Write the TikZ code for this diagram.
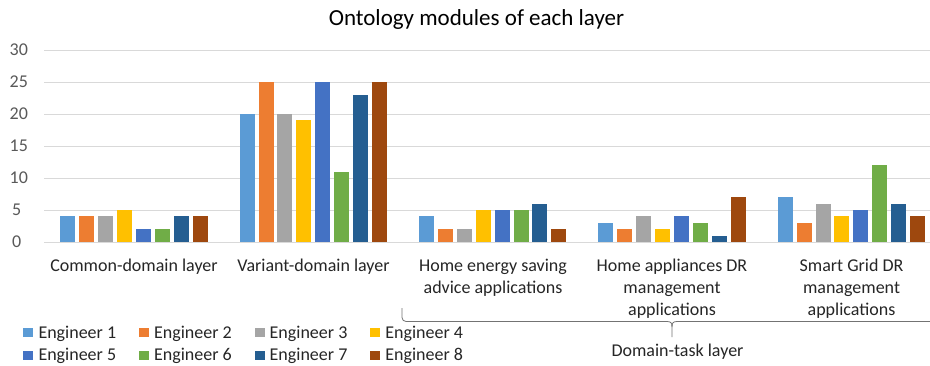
\documentclass[tikz,border=0pt]{standalone}
\usepackage{fontspec}
\setmainfont{Carlito}
\definecolor{e1}{HTML}{5B9BD5}
\definecolor{e2}{HTML}{ED7D31}
\definecolor{e3}{HTML}{A5A5A5}
\definecolor{e4}{HTML}{FFC000}
\definecolor{e5}{HTML}{4472C4}
\definecolor{e6}{HTML}{70AD47}
\definecolor{e7}{HTML}{255E91}
\definecolor{e8}{HTML}{9E480E}
\definecolor{gridc}{HTML}{D9D9D9}
\definecolor{txt}{HTML}{262626}
\definecolor{tickc}{HTML}{595959}
\begin{document}
\begin{tikzpicture}[x=1pt,y=-1pt,
  gridline/.style={draw=gridc,line width=1pt},
  ticklab/.style={inner sep=0pt,text=tickc,font=\fontsize{18}{22}\selectfont},
  catlab/.style={inner sep=0pt,anchor=base,text=txt,font=\fontsize{18}{22}\selectfont},
  leglab/.style={inner sep=0pt,anchor=base west,text=txt,font=\fontsize{18}{22}\selectfont},
  brace/.style={draw=black!55,line width=0.8pt}]
\useasboundingbox (0,0) rectangle (930,365);
\fill[white] (0,0) rectangle (930,365);
% title
\node[inner sep=0pt,anchor=base,text=black,font=\fontsize{23}{27}\selectfont] (title) at (476.5,25) {Ontology modules of each layer};
% grid
\foreach \k in {0,...,6} {\draw[gridline] (44,{242-32*\k}) -- (930,{242-32*\k});}
% ticks
\node[ticklab] (t0) at (16.7,242) {0};
\node[ticklab] (t5) at (16.7,210) {5};
\node[ticklab] (t10) at (18.8,178) {10};
\node[ticklab] (t15) at (18.8,146) {15};
\node[ticklab] (t20) at (18.8,114) {20};
\node[ticklab] (t25) at (18.8,82) {25};
\node[ticklab] (t30) at (18.8,50) {30};
% bars
\foreach \g/\vals in {0/{4,4,4,5,2,2,4,4},1/{20,25,20,19,25,11,23,25},2/{4,2,2,5,5,5,6,2},3/{3,2,4,2,4,3,1,7},4/{7,3,6,4,5,12,6,4}} {
  \foreach \v [count=\i] in \vals {
    \fill[e\i] ({60.3+\g*179.35+(\i-1)*18.9},242) rectangle ++(15,{-\v*6.4});
  }
}
% category labels
\node[catlab] (c1) at (134,271) {Common-domain layer};
\node[catlab] (c2) at (313.5,271) {Variant-domain layer};
\node[catlab] (c3a) at (493,271) {Home energy saving};
\node[catlab] (c3b) at (493,293) {advice applications};
\node[catlab] (c4a) at (672,271) {Home appliances DR};
\node[catlab] (c4b) at (672,293) {management};
\node[catlab] (c4c) at (672,315) {applications};
\node[catlab] (c5a) at (851.5,271) {Smart Grid DR};
\node[catlab] (c5b) at (851.5,293) {management};
\node[catlab] (c5c) at (851.5,315) {applications};
% brace
\draw[brace,rounded corners=4pt] (402,308) -- (402,321.5) -- (667,321.5);
\draw[brace] (667,321.5) .. controls (671,321.5) and (672,323) .. (672,327) -- (672,337);
\draw[brace] (672,327) .. controls (672,323) and (673,321.5) .. (677,321.5) -- (930,321.5);
\node[catlab] (dtl) at (677.5,356) {Domain-task layer};
% legend
\foreach \c/\col/\lab in {0/e1/Engineer 1,1/e2/Engineer 2,2/e3/Engineer 3,3/e4/Engineer 4} {
  \fill[\col] ({23.3+\c*115.6},328.3) rectangle ++(10,9);
  \node[leglab] (l\col) at ({38.3+\c*115.6},338.3) {\lab};
}
\foreach \c/\col/\lab in {0/e5/Engineer 5,1/e6/Engineer 6,2/e7/Engineer 7,3/e8/Engineer 8} {
  \fill[\col] ({23.3+\c*115.6},350.8) rectangle ++(10,9);
  \node[leglab] (l\col) at ({38.3+\c*115.6},360.7) {\lab};
}
\end{tikzpicture}
\end{document}
